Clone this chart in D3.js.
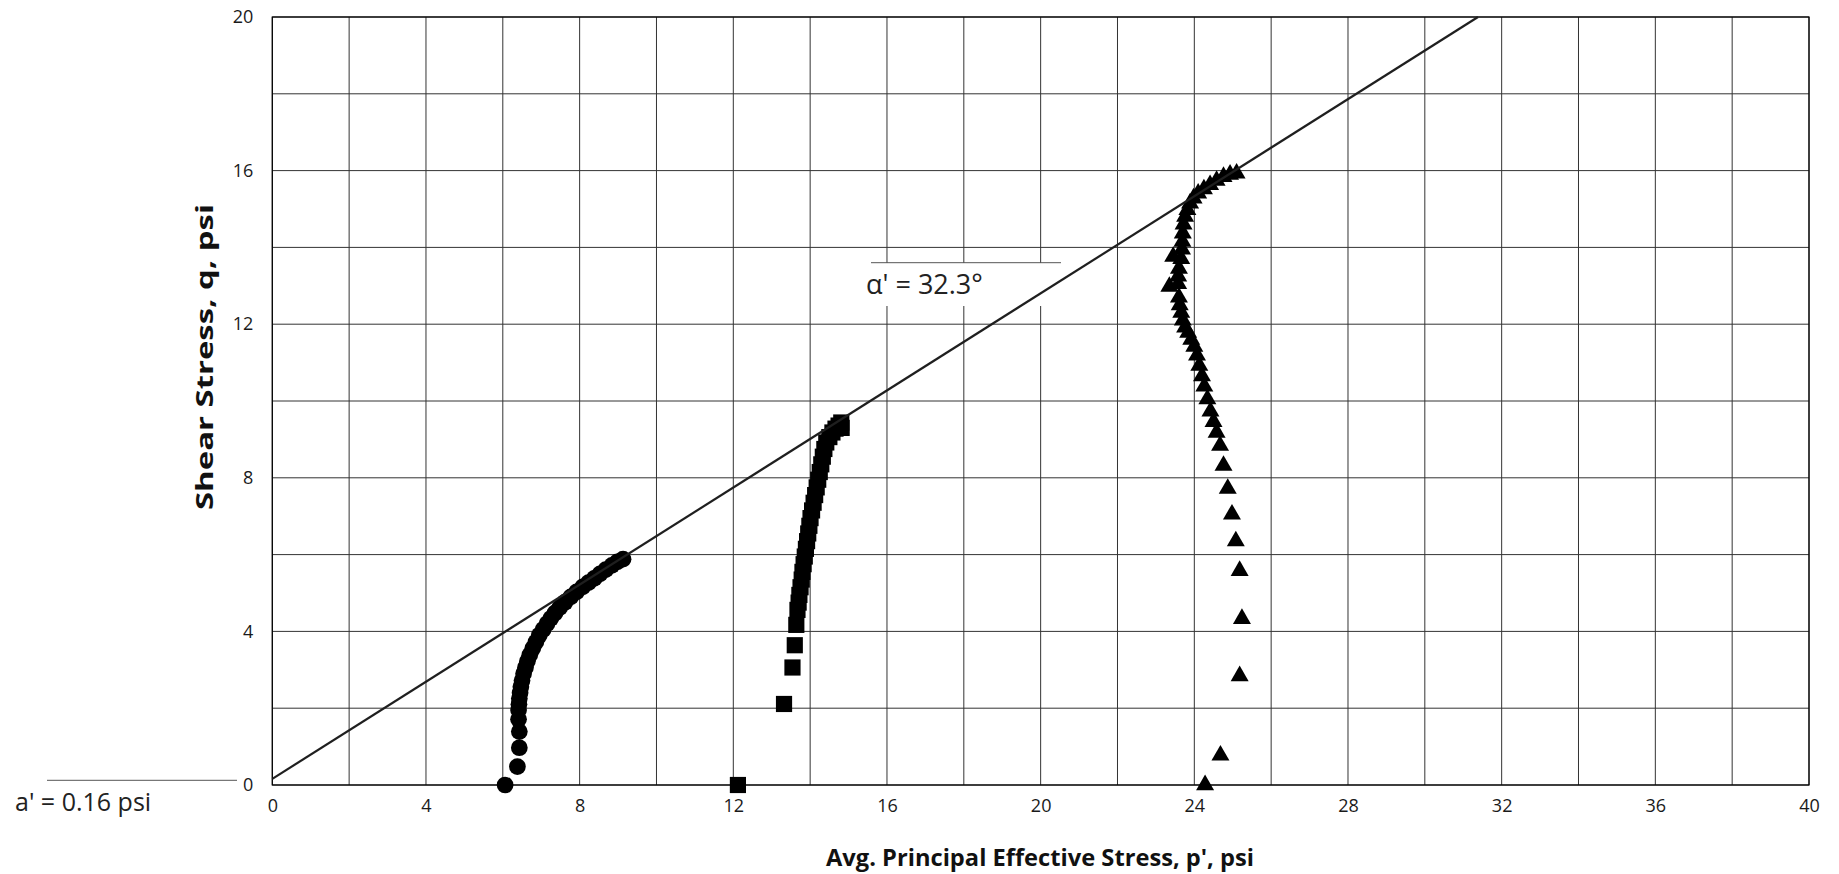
<!DOCTYPE html>
<html>
<head>
<meta charset="utf-8">
<script src="https://cdn.jsdelivr.net/npm/d3@7"></script>
<style>
  html, body { margin: 0; padding: 0; background: #fff; }
  svg { display: block; }
</style>
</head>
<body>
<div id="chart"></div>
<script>
// axis ticks + titles
var xTicks = [0, 4, 8, 12, 16, 20, 24, 28, 32, 36, 40];
var yTicks = [0, 4, 8, 12, 16, 20];
var xTitle = "Avg. Principal Effective Stress, p', psi";
var yTitle = "Shear Stress, q, psi";

// failure envelope (from the labels on the chart)
var aPrime = 0.16;      // psi
var alphaDeg = 32.3;    // degrees
var alphaLabel = "\u03b1' = 32.3\u00b0";
var aLabel = "a' = 0.16 psi";

// stress paths, [p', q]
var circlePts = [
  [6.06, 0], [6.38, 0.48], [6.43, 0.97], [6.43, 1.39], [6.41, 1.71], [6.41, 1.95],
  [6.42, 2.1], [6.43, 2.25], [6.45, 2.4], [6.47, 2.56], [6.5, 2.72], [6.54, 2.9],
  [6.59, 3.06], [6.64, 3.22], [6.7, 3.38], [6.78, 3.56], [6.86, 3.72], [6.95, 3.9],
  [7.05, 4.05], [7.15, 4.2], [7.25, 4.34], [7.36, 4.48], [7.48, 4.62], [7.62, 4.76],
  [7.77, 4.9], [7.92, 5.03], [8.08, 5.16], [8.23, 5.27], [8.38, 5.38], [8.53, 5.5],
  [8.68, 5.61], [8.84, 5.72], [8.98, 5.81], [9.13, 5.88]
];

var squarePts = [
  [12.12, 0], [13.32, 2.11], [13.54, 3.06], [13.6, 3.64], [13.64, 4.17], [13.67, 4.56],
  [13.7, 4.75], [13.72, 4.95], [13.75, 5.15], [13.78, 5.35], [13.8, 5.55], [13.83, 5.75],
  [13.86, 5.95], [13.89, 6.15], [13.92, 6.35], [13.95, 6.55], [13.98, 6.75], [14.01, 6.95],
  [14.05, 7.15], [14.09, 7.35], [14.13, 7.55], [14.17, 7.75], [14.21, 7.95], [14.25, 8.15],
  [14.29, 8.35], [14.33, 8.55], [14.37, 8.75], [14.42, 8.92], [14.5, 9.06], [14.58, 9.18],
  [14.66, 9.28], [14.74, 9.36], [14.82, 9.3], [14.81, 9.44]
];

var trianglePts = [
  [24.28, 0], [24.68, 0.77], [25.18, 2.84], [25.24, 4.33], [25.18, 5.58], [25.08, 6.35],
  [24.98, 7.05], [24.87, 7.72], [24.76, 8.32], [24.67, 8.84], [24.58, 9.18], [24.5, 9.46],
  [24.42, 9.73], [24.34, 10.05], [24.26, 10.38], [24.2, 10.65], [24.13, 10.92], [24.07, 11.19],
  [24.0, 11.42], [23.92, 11.6], [23.84, 11.78], [23.76, 11.92], [23.7, 12.1], [23.66, 12.3],
  [23.62, 12.5], [23.6, 12.7], [23.35, 12.98], [23.58, 13.05], [23.58, 13.25], [23.6, 13.45],
  [23.45, 13.76], [23.66, 13.7], [23.68, 13.95], [23.69, 14.15], [23.7, 14.37], [23.72, 14.6],
  [23.76, 14.8], [23.82, 14.98], [23.89, 15.15], [23.98, 15.28], [24.1, 15.41], [24.25, 15.52],
  [24.41, 15.63], [24.58, 15.74], [24.76, 15.84], [24.93, 15.9], [25.1, 15.93]
];

var width = 1839, height = 874;
var plotLeft = 272.3, plotTop = 17, plotW = 1536.7, plotH = 768;

var svg = d3.select("#chart").append("svg")
    .attr("width", width)
    .attr("height", height);

var x = d3.scaleLinear().domain([0, 40]).range([plotLeft, plotLeft + plotW]);
var y = d3.scaleLinear().domain([0, 20]).range([plotTop + plotH, plotTop]);

// grid every 2 units
var grid = svg.append("g");
grid.selectAll(".gx")
    .data(d3.range(0, 41, 2))
    .enter().append("line")
    .attr("x1", d => x(d)).attr("x2", d => x(d))
    .attr("y1", y(0)).attr("y2", y(20))
    .attr("stroke", "#333").attr("stroke-width", 1);
grid.selectAll(".gy")
    .data(d3.range(0, 21, 2))
    .enter().append("line")
    .attr("x1", x(0)).attr("x2", x(40))
    .attr("y1", d => y(d)).attr("y2", d => y(d))
    .attr("stroke", "#333").attr("stroke-width", 1);

// frame
svg.append("rect")
    .attr("x", x(0)).attr("y", y(20))
    .attr("width", x(40) - x(0)).attr("height", y(0) - y(20))
    .attr("fill", "none").attr("stroke", "#000").attr("stroke-width", 1.2);

// axes, labels only (grid does the lines)
var xAxis = d3.axisBottom(x).tickValues(xTicks).tickSize(0).tickPadding(14);
svg.append("g")
    .attr("transform", "translate(0," + y(0) + ")")
    .call(xAxis)
    .call(g => g.select(".domain").remove())
    .selectAll("text")
    .style("font-family", "'Open Sans', sans-serif")
    .style("font-size", "18px")
    .attr("fill", "#1a1a1a");

var yAxis = d3.axisLeft(y).tickValues(yTicks).tickSize(0).tickPadding(19);
svg.append("g")
    .attr("transform", "translate(" + x(0) + ",0)")
    .call(yAxis)
    .call(g => g.select(".domain").remove())
    .selectAll("text")
    .style("font-family", "'Open Sans', sans-serif")
    .style("font-size", "18px")
    .attr("fill", "#1a1a1a");

// axis titles, squeezed to look like a condensed face
svg.append("text")
    .attr("x", 1040).attr("y", 866)
    .attr("text-anchor", "middle")
    .attr("textLength", 428).attr("lengthAdjust", "spacingAndGlyphs")
    .style("font-family", "'Open Sans', sans-serif")
    .style("font-weight", "bold")
    .style("font-size", "23px")
    .attr("fill", "#111")
    .text(xTitle);

svg.append("text")
    .attr("transform", "translate(213,357) rotate(-90)")
    .attr("text-anchor", "middle")
    .attr("textLength", 306).attr("lengthAdjust", "spacingAndGlyphs")
    .style("font-family", "'Open Sans', sans-serif")
    .style("font-weight", "bold")
    .style("font-size", "23px")
    .attr("fill", "#111")
    .text(yTitle);

// markers
svg.append("g").selectAll("path")
    .data(circlePts).enter().append("path")
    .attr("transform", d => "translate(" + x(d[0]) + "," + y(d[1]) + ")")
    .attr("d", d3.symbol().type(d3.symbolCircle).size(Math.PI * 70))
    .attr("fill", "#000");

svg.append("g").selectAll("path")
    .data(squarePts).enter().append("path")
    .attr("transform", d => "translate(" + x(d[0]) + "," + y(d[1]) + ")")
    .attr("d", d3.symbol().type(d3.symbolSquare).size(262))
    .attr("fill", "#000");

svg.append("g").selectAll("path")
    .data(trianglePts).enter().append("path")
    .attr("transform", d => "translate(" + x(d[0]) + "," + y(d[1]) + ")")
    .attr("d", d3.symbol().type(d3.symbolTriangle).size(140))
    .attr("fill", "#000");

// alpha label box (white, covers grid, top rule only)
svg.append("rect")
    .attr("x", 871).attr("y", 263)
    .attr("width", 190).attr("height", 43)
    .attr("fill", "#fff");
svg.append("line")
    .attr("x1", 871).attr("x2", 1061)
    .attr("y1", 262.7).attr("y2", 262.7)
    .attr("stroke", "#555").attr("stroke-width", 1);
svg.append("text")
    .attr("x", 866).attr("y", 294)
    .style("font-family", "'Open Sans', sans-serif")
    .style("font-size", "27px")
    .attr("fill", "#222")
    .text(alphaLabel);

// failure envelope q = a' + p' tan(alpha)
var slope = Math.tan(alphaDeg * Math.PI / 180);
var pEnd = (y.domain()[1] - aPrime) / slope;
svg.append("line")
    .attr("x1", x(0)).attr("y1", y(aPrime))
    .attr("x2", x(pEnd)).attr("y2", y(aPrime + slope * pEnd))
    .attr("stroke", "#1f1f1f").attr("stroke-width", 2.2);

// a' label below-left
svg.append("line")
    .attr("x1", 47).attr("x2", 237)
    .attr("y1", 780.3).attr("y2", 780.3)
    .attr("stroke", "#555").attr("stroke-width", 1);
svg.append("text")
    .attr("x", 15).attr("y", 811)
    .style("font-family", "'Open Sans', sans-serif")
    .style("font-size", "25px")
    .attr("fill", "#222")
    .text(aLabel);
</script>
</body>
</html>
